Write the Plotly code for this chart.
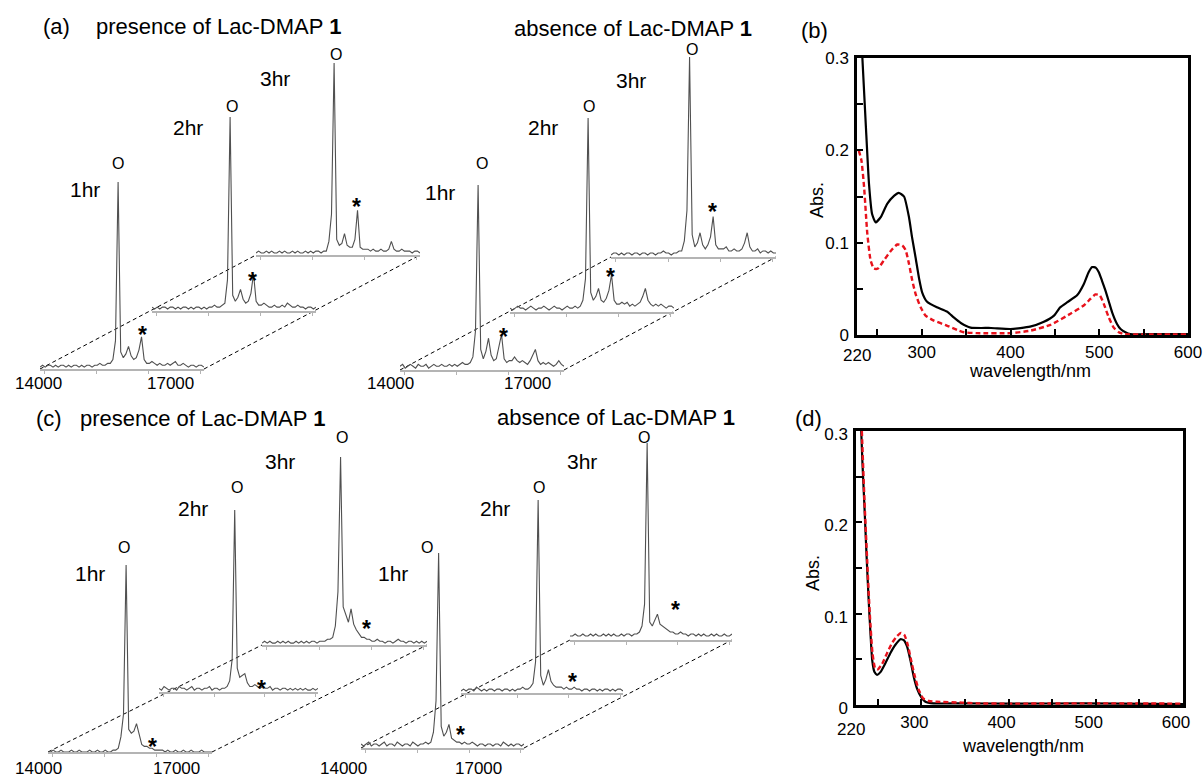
import plotly.graph_objects as go

W, H = 1204, 778
FONT = "Liberation Sans, Arial, Helvetica, sans-serif"

# ---------------------------------------------------------------- data
# m/z sampling grid shared by every mass spectrum (Da)
MZ = list(range(14000, 17781, 60))

# relative intensity (%) -- panel (a), presence of Lac-DMAP 1
A_PRES_1HR = [
    2, 3, 2, 3, 3, 2, 3, 2, 3, 3, 2, 3, 2, 3, 3, 2,
    3, 2, 3, 3, 2, 3, 3, 4, 3, 3, 4, 4, 6, 16, 100, 10,
    7, 9, 13, 8, 6, 7, 11, 18, 6, 4, 4, 5, 4, 3, 4, 3,
    3, 4, 3, 4, 5, 3, 3, 4, 3, 2, 3, 3, 2, 3, 3, 2,
]
A_PRES_2HR = [
    3, 2, 3, 2, 3, 3, 2, 3, 3, 2, 3, 2, 3, 3, 2, 3,
    2, 3, 3, 2, 3, 2, 3, 3, 4, 3, 3, 4, 5, 17, 100, 9,
    6, 8, 12, 7, 5, 6, 10, 20, 6, 4, 4, 5, 4, 3, 3, 4,
    3, 3, 4, 3, 5, 4, 3, 3, 4, 3, 3, 2, 3, 3, 2, 3,
]
A_PRES_3HR = [
    2, 3, 2, 2, 3, 2, 3, 2, 2, 3, 2, 3, 2, 2, 3, 2,
    3, 2, 2, 3, 2, 3, 2, 3, 3, 2, 3, 3, 8, 22, 100, 9,
    6, 7, 12, 6, 5, 5, 9, 24, 5, 4, 4, 4, 3, 4, 3, 3,
    4, 3, 3, 4, 8, 4, 3, 3, 4, 3, 3, 3, 2, 3, 3, 2,
]
# panel (a), absence of Lac-DMAP 1
A_ABS_1HR = [
    3, 4, 2, 3, 4, 3, 2, 4, 3, 3, 4, 2, 3, 4, 3, 3,
    4, 3, 3, 4, 3, 4, 3, 4, 5, 4, 4, 5, 8, 22, 100, 12,
    7, 11, 18, 9, 6, 7, 13, 20, 7, 5, 6, 6, 8, 6, 5, 6,
    5, 4, 6, 9, 12, 6, 4, 5, 4, 5, 4, 3, 4, 6, 4, 3,
]
A_ABS_2HR = [
    3, 2, 3, 4, 3, 3, 2, 3, 4, 3, 2, 3, 3, 4, 3, 2,
    3, 4, 3, 3, 2, 3, 4, 3, 3, 4, 3, 4, 7, 18, 100, 11,
    7, 9, 13, 7, 6, 8, 12, 20, 7, 5, 5, 6, 5, 6, 4, 5,
    4, 5, 6, 9, 13, 7, 5, 4, 5, 4, 5, 4, 3, 4, 4, 3,
]
A_ABS_3HR = [
    2, 3, 3, 2, 3, 2, 3, 3, 2, 3, 3, 2, 3, 3, 2, 3,
    3, 2, 3, 3, 4, 3, 3, 2, 3, 3, 4, 4, 9, 24, 100, 12,
    6, 8, 13, 7, 5, 7, 11, 21, 7, 5, 5, 5, 6, 4, 4, 5,
    4, 4, 5, 8, 13, 6, 4, 4, 5, 3, 4, 4, 3, 4, 3, 3,
]
# panel (c), presence of Lac-DMAP 1
C_PRES_1HR = [
    1, 1, 2, 1, 1, 2, 1, 1, 1, 2, 1, 1, 2, 1, 1, 1,
    2, 1, 1, 2, 1, 1, 2, 1, 1, 2, 2, 3, 9, 21, 100, 13,
    11, 12, 16, 10, 5, 4, 4, 3, 3, 2, 2, 2, 2, 1, 2, 1,
    1, 2, 1, 1, 2, 1, 1, 2, 1, 1, 1, 2, 1, 1, 1, 1,
]
C_PRES_2HR = [
    3, 2, 4, 3, 2, 3, 3, 2, 4, 3, 3, 2, 3, 4, 2, 3,
    3, 2, 3, 3, 4, 2, 3, 3, 2, 3, 3, 4, 7, 19, 100, 14,
    9, 10, 11, 6, 4, 4, 5, 4, 3, 4, 3, 3, 4, 2, 3, 3,
    2, 3, 3, 2, 3, 2, 3, 2, 3, 2, 3, 2, 2, 3, 2, 3,
]
C_PRES_3HR = [
    2, 3, 2, 3, 2, 2, 3, 2, 3, 2, 3, 2, 2, 3, 2, 3,
    2, 3, 2, 3, 3, 2, 3, 3, 3, 4, 4, 5, 11, 29, 100, 21,
    17, 13, 20, 12, 9, 7, 5, 5, 4, 4, 3, 3, 4, 3, 3, 2,
    3, 3, 2, 3, 4, 3, 3, 2, 3, 3, 2, 3, 2, 3, 2, 3,
]
# panel (c), absence of Lac-DMAP 1
C_ABS_1HR = [
    3, 2, 3, 4, 2, 3, 3, 2, 3, 4, 2, 3, 3, 2, 4, 3,
    2, 3, 3, 2, 4, 3, 2, 3, 3, 4, 3, 4, 9, 25, 100, 12,
    7, 9, 13, 6, 5, 4, 4, 3, 4, 3, 3, 4, 3, 2, 3, 3,
    2, 3, 3, 2, 3, 3, 2, 4, 3, 2, 3, 2, 3, 3, 2, 3,
]
C_ABS_2HR = [
    2, 3, 2, 3, 3, 2, 4, 3, 2, 3, 2, 3, 3, 2, 3, 3,
    2, 3, 3, 2, 3, 2, 3, 3, 4, 3, 3, 4, 6, 17, 100, 10,
    5, 8, 13, 7, 5, 4, 4, 4, 3, 4, 3, 3, 4, 3, 3, 2,
    3, 3, 2, 3, 3, 2, 3, 2, 3, 3, 2, 3, 2, 3, 3, 2,
]
C_ABS_3HR = [
    3, 3, 4, 3, 3, 4, 3, 3, 4, 3, 4, 3, 3, 4, 3, 4,
    3, 4, 3, 3, 4, 3, 4, 4, 3, 4, 4, 5, 8, 19, 100, 10,
    8, 11, 14, 9, 8, 7, 6, 5, 5, 4, 4, 5, 4, 4, 3, 4,
    4, 3, 4, 3, 4, 3, 3, 4, 3, 4, 3, 3, 4, 3, 3, 4,
]

# UV-vis spectra, panel (b)
B_SOLID_NM = [232, 237, 240.5, 244, 248, 254, 261, 269, 274, 280, 285.5, 289,
              293, 297, 300.5, 306, 317, 329, 336, 344, 355, 378, 400, 422,
              437, 449, 456, 464, 475, 482.5, 488, 492, 496, 499.5, 503, 507,
              511, 514.5, 520, 524, 529.5, 535, 565, 600]
B_SOLID_ABS = [0.32, 0.226, 0.164, 0.131, 0.122, 0.128, 0.142, 0.151, 0.154,
               0.150, 0.128, 0.106, 0.084, 0.061, 0.046, 0.036, 0.030, 0.025,
               0.019, 0.013, 0.008, 0.0076, 0.0065, 0.009, 0.014, 0.021,
               0.030, 0.0355, 0.043, 0.055, 0.068, 0.0736, 0.073, 0.068,
               0.059, 0.048, 0.0355, 0.0246, 0.012, 0.0065, 0.003, 0.001,
               0.001, 0.001]
B_DASH_NM = [229, 232, 235, 238.6, 242.3, 246, 250.6, 257.4, 265, 272.4, 278,
             281.8, 285.6, 289.3, 293, 298.7, 304.3, 313.7, 328.7, 340, 347.5,
             362.5, 400, 422.5, 445, 467.5, 482.5, 490, 495.7, 500.6, 505,
             510.7, 516.3, 522, 527.6, 550, 599]
B_DASH_ABS = [0.200, 0.189, 0.160, 0.110, 0.081, 0.072, 0.072, 0.081, 0.091,
              0.098, 0.097, 0.092, 0.077, 0.059, 0.0446, 0.030, 0.021, 0.0156,
              0.010, 0.0054, 0.003, 0.002, 0.002, 0.0047, 0.011, 0.023, 0.032,
              0.039, 0.044, 0.043, 0.034, 0.019, 0.008, 0.003, 0.001, 0.0007,
              0.0007]

# UV-vis spectra, panel (d)
D_SOLID_NM = [231, 232.4, 234.7, 237, 239.3, 241.6, 243.6, 246.2, 249.2, 253,
              258.8, 264.5, 270.2, 276, 279.8, 283.6, 287.4, 291.2, 295, 299.6,
              304.6, 314, 348.5, 400, 486, 600]
D_SOLID_ABS = [0.300, 0.265, 0.217, 0.166, 0.119, 0.078, 0.049, 0.036, 0.033,
               0.036, 0.046, 0.057, 0.066, 0.072, 0.071, 0.064, 0.049, 0.031,
               0.018, 0.009, 0.0036, 0.0018, 0.0018, 0.0015, 0.0018, 0.001]
D_DASH_NM = [231.7, 234.7, 237.8, 240.8, 243.9, 247, 250, 255, 260.7, 266.4,
             272.1, 276.7, 280.5, 284.4, 288.2, 292, 297, 301.9, 308.4, 318,
             346.6, 363.7, 400, 493.5, 600]
D_DASH_ABS = [0.300, 0.224, 0.159, 0.100, 0.057, 0.040, 0.039, 0.045, 0.057,
              0.068, 0.0755, 0.079, 0.0766, 0.0657, 0.049, 0.033, 0.0164,
              0.0073, 0.0044, 0.0036, 0.0026, 0.0018, 0.0015, 0.0018, 0.0015]

HOURS = ["1hr", "2hr", "3hr"]

# ---------------------------------------------------------------- layout
SPEC_VALUES = {
    "ap1": A_PRES_1HR, "ap2": A_PRES_2HR, "ap3": A_PRES_3HR,
    "aa1": A_ABS_1HR, "aa2": A_ABS_2HR, "aa3": A_ABS_3HR,
    "cp1": C_PRES_1HR, "cp2": C_PRES_2HR, "cp3": C_PRES_3HR,
    "ca1": C_ABS_1HR, "ca2": C_ABS_2HR, "ca3": C_ABS_3HR,
}
# key: (left px, right px, baseline px, 100 % px)
SPEC_BOX = {
    "ap1": (40, 204, 369, 182), "ap2": (152, 316, 311, 117), "ap3": (256, 420, 255, 63),
    "aa1": (400, 564, 370, 185), "aa2": (510, 674, 312, 118), "aa3": (611, 776, 257, 57),
    "cp1": (48, 212, 752, 565), "cp2": (159, 318, 692, 510), "cp3": (262, 427, 645, 457),
    "ca1": (361, 524, 748, 553), "ca2": (461, 623, 693, 500), "ca3": (570, 732, 640, 443),
}
# key: (hour label px, "O" px, "*" px)
SPEC_LABELS = {
    "ap1": ((85, 190), (118, 163), (142, 335)),
    "ap2": ((188, 127), (232, 106), (252, 281)),
    "ap3": ((275, 78), (336, 55), (356, 207)),
    "aa1": ((440, 192), (482, 163), (503, 337)),
    "aa2": ((543, 128), (589, 107), (610, 277)),
    "aa3": ((631, 80), (692, 49), (712, 212)),
    "cp1": ((90, 573), (124, 547), (152, 747)),
    "cp2": ((193, 508), (237, 487), (261, 689)),
    "cp3": ((280, 461), (342, 437), (366, 629)),
    "ca1": ((393, 573), (427, 547), (460, 735)),
    "ca2": ((495, 508), (539, 487), (572, 682)),
    "ca3": ((582, 461), (644, 437), (675, 610)),
}
GROUPS = [("ap1", "ap2", "ap3"), ("aa1", "aa2", "aa3"),
          ("cp1", "cp2", "cp3"), ("ca1", "ca2", "ca3")]
MASS_LABELS = [((38, 383), (170, 383)), ((390, 383), (527, 383)),
               ((38, 768), (176, 768)), ((343, 768), (478, 768))]


def px(x):
    return x / W


def py(y):
    return 1 - y / H


fig = go.Figure()
lay = {}
annotations = []
shapes = []


def ax_names(i):
    return ("xaxis" if i == 1 else f"xaxis{i}", "yaxis" if i == 1 else f"yaxis{i}",
            "x" if i == 1 else f"x{i}", "y" if i == 1 else f"y{i}")


def text(x, y, s, size, **kw):
    annotations.append(dict(x=px(x), y=py(y), xref="paper", yref="paper", text=s,
                            showarrow=False, xanchor="center", yanchor="middle",
                            font=dict(family=FONT, size=size, color="black"), **kw))


idx = 0
for group in GROUPS:
    for hour, key in zip(HOURS, group):
        idx += 1
        xa, ya, xr, yr = ax_names(idx)
        x0, x1, yb, yt = SPEC_BOX[key]
        fig.add_trace(go.Scatter(x=MZ, y=SPEC_VALUES[key], mode="lines", xaxis=xr, yaxis=yr,
                                 line=dict(color="#505050", width=1.1), hoverinfo="skip"))
        lay[xa] = dict(domain=[px(x0), px(x1)], anchor=yr, range=[14000, 17780],
                       showgrid=False, zeroline=False, showline=True, linecolor="#b4b4b4",
                       linewidth=1.6, ticks="outside", ticklen=3, tickwidth=1,
                       tickcolor="#b4b4b4", tickmode="linear", tick0=15310, dtick=1200,
                       showticklabels=False, fixedrange=True, automargin=False)
        lay[ya] = dict(domain=[py(yb), py(yt)], anchor=xr, range=[1, 100], visible=False,
                       fixedrange=True, automargin=False)
        (hx, hy), (ox, oy), (sx, sy) = SPEC_LABELS[key]
        text(hx, hy, hour, 21)
        text(ox, oy, "O", 16)
        text(sx, sy, "<b>*</b>", 23)

# perspective guides joining the baselines of each stack
for group, (lab14, lab17) in zip(GROUPS, MASS_LABELS):
    a, c = SPEC_BOX[group[0]], SPEC_BOX[group[2]]
    for side in (0, 1):
        shapes.append(dict(type="line", xref="paper", yref="paper",
                           x0=px(a[side]), y0=py(a[2]), x1=px(c[side]), y1=py(c[2]),
                           line=dict(color="black", width=1, dash="4px,3px"), layer="below"))
    text(lab14[0], lab14[1], "14000", 17)
    text(lab17[0], lab17[1], "17000", 17)

# panel titles
text(56, 27, "(a)", 22)
text(218, 27, "presence of Lac-DMAP <b>1</b>", 22)
text(633, 29, "absence of Lac-DMAP <b>1</b>", 22)
text(49, 418, "(c)", 22)
text(202, 418, "presence of Lac-DMAP <b>1</b>", 22)
text(616, 417, "absence of Lac-DMAP <b>1</b>", 22)
text(814, 30, "(b)", 22)
text(808, 418, "(d)", 22)

# UV-vis panels
UV = [
    (B_SOLID_NM, B_SOLID_ABS, B_DASH_NM, B_DASH_ABS, (857, 1188, 335, 58), 227, 0, 0,
     (857, 355), (1030, 371), (817, 200)),
    (D_SOLID_NM, D_SOLID_ABS, D_DASH_NM, D_DASH_ABS, (856, 1183, 705, 431), 225, -7, 3,
     (851, 729), (1023, 746), (813, 573)),
]
for (snm, sab, dnm, dab, (bx0, bx1, by0, by1), xmin, xshift, yshift,
     lab220, xtitle, ytitle) in UV:
    idx += 1
    xa, ya, xr, yr = ax_names(idx)
    fig.add_trace(go.Scatter(x=snm, y=sab, mode="lines", xaxis=xr, yaxis=yr,
                             line=dict(color="black", width=2.2, shape="spline", smoothing=0.5),
                             hoverinfo="skip"))
    fig.add_trace(go.Scatter(x=dnm, y=dab, mode="lines", xaxis=xr, yaxis=yr,
                             line=dict(color="#e8121c", width=2.4, dash="5px,3px",
                                       shape="spline", smoothing=0.5),
                             hoverinfo="skip"))
    common = dict(showgrid=False, zeroline=False, showline=True, linecolor="black",
                  linewidth=2.5, mirror=True, ticks="inside", ticklen=6, tickwidth=2,
                  tickcolor="black", tickfont=dict(family=FONT, size=17, color="black"),
                  fixedrange=True, automargin=False)
    lay[xa] = dict(domain=[px(bx0), px(bx1)], anchor=yr, range=[xmin, 600],
                   tickmode="linear", tick0=0, dtick=100, ticklabelstandoff=0,
                   ticklabelshift=xshift,
                   minor=dict(ticks="inside", ticklen=6, tickwidth=2, tickcolor="black",
                              tick0=0, dtick=50),
                   **common)
    lay[ya] = dict(domain=[py(by0), py(by1)], anchor=xr, range=[0, 0.3],
                   tickmode="linear", tick0=0, dtick=0.1, ticklabelstandoff=2,
                   ticklabelshift=yshift,
                   minor=dict(ticks="inside", ticklen=6, tickwidth=2, tickcolor="black",
                              tick0=0, dtick=0.05),
                   **common)
    text(lab220[0], lab220[1], "220", 17)
    text(xtitle[0], xtitle[1], "wavelength/nm", 18)
    text(ytitle[0], ytitle[1], "Abs.", 18, textangle=-90)

fig.update_layout(
    template="none", autosize=False,
    width=W, height=H, margin=dict(l=0, r=0, t=0, b=0, pad=0),
    paper_bgcolor="white", plot_bgcolor="rgba(0,0,0,0)", showlegend=False,
    font=dict(family=FONT, color="black"),
    annotations=annotations, shapes=shapes, **lay,
)

fig.write_html("out.html")
